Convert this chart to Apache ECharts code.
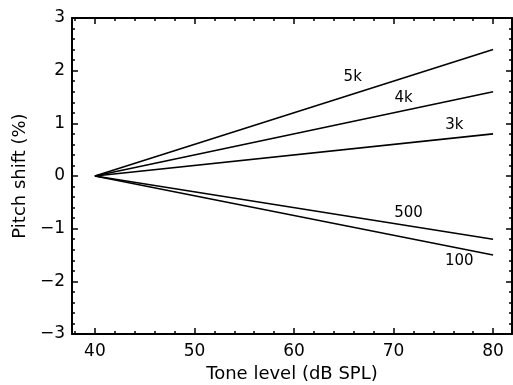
<!DOCTYPE html>
<html>
<head>
<meta charset="utf-8">
<script src="https://cdn.jsdelivr.net/npm/echarts@6/dist/echarts.min.js"></script>
<style>
  html, body { margin: 0; padding: 0; background: #fff; }
  #chart { width: 513px; height: 385px; }
</style>
</head>
<body>
<div id="chart"></div>
<script>
// 數據
const toneLevels = [40, 80]
const seriesNames = ['5k', '4k', '3k', '500', '100']
const shiftAt40 = [0, 0, 0, 0, 0]
const shiftAt80 = [2.4, 1.6, 0.8, -1.2, -1.5]
// 曲線標籤位置 (數據座標)
const labelX = [65.9, 71.0, 76.1, 71.5, 76.6]
const labelY = [1.88, 1.48, 0.97, -0.70, -1.61]
// 刻度
const xMajorTicks = [40, 50, 60, 70, 80]
const xMinorTicks = [38, 42, 44, 46, 48, 52, 54, 56, 58, 62, 64, 66, 68, 72, 74, 76, 78]

const font = 'DejaVu Sans'
const xMin = 37.7
const xMax = 81.9

const chart = echarts.init(document.getElementById('chart'))

// x 軸: 主刻度 / 副刻度, 上下各一
function xAxisOf(position, ticks, len, showLine, showLabel) {
  return {
    type: 'value',
    position: position,
    min: xMin,
    max: xMax,
    splitLine: { show: false },
    axisLine: { show: showLine, onZero: false, lineStyle: { color: '#000', width: 2 } },
    axisTick: { show: true, inside: true, length: len, customValues: ticks, lineStyle: { color: '#000', width: 1.5 } },
    axisLabel: showLabel
      ? { show: true, customValues: xMajorTicks, color: '#000', fontFamily: font, fontSize: 17, margin: 9 }
      : { show: false },
    name: showLabel ? 'Tone level (dB SPL)' : '',
    nameLocation: 'middle',
    nameGap: 25,
    nameTextStyle: { color: '#000', fontFamily: font, fontSize: 18 }
  }
}

function yAxisOf(position, showLabel) {
  return {
    type: 'value',
    position: position,
    min: -3,
    max: 3,
    interval: 1,
    splitLine: { show: false },
    axisLine: { show: true, onZero: false, lineStyle: { color: '#000', width: 2 } },
    axisTick: { show: true, inside: true, length: 6, lineStyle: { color: '#000', width: 1.5 } },
    minorTick: { show: true, splitNumber: 5, length: 3, lineStyle: { color: '#000', width: 1.5 } },
    minorSplitLine: { show: false },
    axisLabel: showLabel
      ? { show: true, color: '#000', fontFamily: font, fontSize: 17, margin: 7,
          formatter: v => (v < 0 ? '\u2212' + Math.abs(v) : String(v)) }
      : { show: false },
    name: showLabel ? 'Pitch shift (%)' : '',
    nameLocation: 'middle',
    nameGap: 40,
    nameTextStyle: { color: '#000', fontFamily: font, fontSize: 18 }
  }
}

const lineSeries = seriesNames.map((name, i) => ({
  name: name,
  type: 'line',
  xAxisIndex: 0,
  yAxisIndex: 0,
  data: [[toneLevels[0], shiftAt40[i]], [toneLevels[1], shiftAt80[i]]],
  showSymbol: false,
  symbol: 'none',
  silent: true,
  lineStyle: { color: '#000', width: 1.6 },
  markPoint: {
    symbol: 'circle',
    symbolSize: 0,
    data: [{ coord: [labelX[i], labelY[i]] }],
    label: {
      show: true,
      position: 'inside',
      formatter: name,
      color: '#000',
      fontFamily: font,
      fontSize: 15
    }
  }
}))

chart.setOption({
  animation: false,
  backgroundColor: '#fff',
  grid: { left: 72, right: 1, top: 18, bottom: 51, outerBoundsMode: 'none' },
  xAxis: [
    xAxisOf('bottom', xMajorTicks, 6, true, true),
    xAxisOf('bottom', xMinorTicks, 3, false, false),
    xAxisOf('top', xMajorTicks, 6, true, false),
    xAxisOf('top', xMinorTicks, 3, false, false)
  ],
  yAxis: [
    yAxisOf('left', true),
    yAxisOf('right', false)
  ],
  series: lineSeries
})
</script>
</body>
</html>
